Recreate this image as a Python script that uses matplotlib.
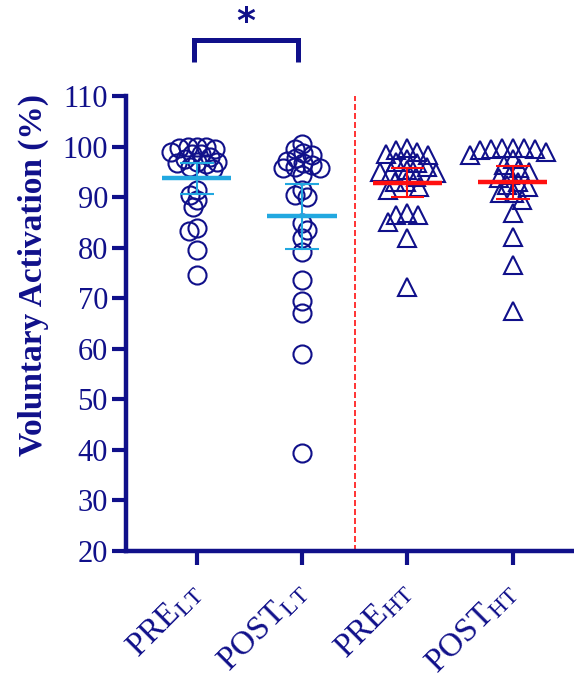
import numpy as np
import matplotlib
matplotlib.use('Agg')
import matplotlib.pyplot as plt

# ---------------- data ----------------
categories = ['PRE', 'POST', 'PRE', 'POST']
subscripts = ['LT', 'LT', 'HT', 'HT']

pre_lt = [100.0, 100.0, 100.0, 99.8, 99.5, 99.0, 98.5, 98.5, 98.0, 97.5, 97.0, 97.0,
          96.8, 96.5, 96.0, 95.5, 91.5, 90.5, 89.5, 88.0, 83.8, 83.2, 79.5, 74.5]
post_lt = [100.5, 99.5, 98.8, 98.3, 97.7, 97.2, 96.7, 96.3, 95.9, 95.7, 95.7, 94.4,
           91.4, 90.4, 90.0, 84.9, 83.5, 81.9, 79.1, 73.6, 69.4, 67.0, 59.0, 39.4]
pre_ht = [99.8, 99.3, 98.9, 98.5, 98.3, 97.5, 96.9, 96.7, 96.0, 95.3, 95.0, 95.0,
          94.8, 94.0, 93.0, 93.0, 92.0, 91.4, 86.8, 86.4, 86.4, 85.0, 81.9, 72.2]
post_ht = [99.8, 99.8, 99.8, 99.6, 99.5, 99.3, 98.9, 98.3, 97.5, 96.3, 95.7, 95.0,
           94.4, 93.8, 93.0, 92.4, 92.0, 90.8, 90.8, 89.4, 86.8, 82.1, 76.5, 67.4]
groups = [pre_lt, post_lt, pre_ht, post_ht]

means = [93.7, 86.3, 92.8, 92.9]
ci_low = [90.6, 79.8, 90.1, 89.7]
ci_high = [96.7, 92.6, 95.7, 96.1]

yticks = [20, 30, 40, 50, 60, 70, 80, 90, 100, 110]
ylabel = 'Voluntary Activation (%)'
sig_label = '*'

# ---------------- style ----------------
NAVY = '#10108A'
CYAN = '#22A8E0'
RED = '#FF1010'
markers = ['o', 'o', '^', '^']
line_colors = [CYAN, CYAN, RED, RED]
swarm_dist = [8.5, 8.5, 10.5, 10.5]

plt.rcParams['mathtext.fontset'] = 'custom'
plt.rcParams['mathtext.rm'] = 'Liberation Serif'
plt.rcParams['mathtext.it'] = 'Liberation Serif:italic'
plt.rcParams['mathtext.bf'] = 'Liberation Serif:bold'

fig = plt.figure(figsize=(5.74, 6.83), dpi=100)
ax = fig.add_axes([126 / 574, 132 / 683, 448 / 574, 455 / 683])
ax.set_xlim(-0.671, 3.582)
ax.set_ylim(20, 110)

# ---------------- swarm layout (computed, pixel space) ----------------
def swarm_offsets(vals, xc, D):
    pts = ax.transData.transform(np.column_stack([np.full(len(vals), xc), vals]))
    ys = pts[:, 1]
    order = np.argsort(-np.asarray(vals), kind='stable')
    placed = []
    offs = np.zeros(len(vals))
    for n, i in enumerate(order):
        k = 0
        found = None
        while found is None:
            cands = (0.0,) if k == 0 else ((k, -k) if n % 2 == 0 else (-k, k))
            for off in cands:
                if all((off - px) ** 2 + (ys[i] - py) ** 2 >= D * D for px, py in placed):
                    found = off
                    break
            k += 1
        placed.append((found, ys[i]))
        offs[i] = found
    px_per_unit = (ax.transData.transform((1, 0)) - ax.transData.transform((0, 0)))[0]
    return xc + offs / px_per_unit

for i, vals in enumerate(groups):
    xs = swarm_offsets(vals, i, swarm_dist[i])
    ax.plot(xs, vals, linestyle='none', marker=markers[i], markersize=13,
            markerfacecolor='none', markeredgecolor=NAVY, markeredgewidth=1.5,
            zorder=3)
    c = line_colors[i]
    ax.plot([i - 0.33, i + 0.33], [means[i]] * 2, color=c, lw=3.2, zorder=4,
            solid_capstyle='butt')
    ax.plot([i, i], [ci_low[i], ci_high[i]], color=c, lw=1.5, zorder=4)
    for v in (ci_low[i], ci_high[i]):
        ax.plot([i - 0.16, i + 0.16], [v, v], color=c, lw=1.5, zorder=4,
                solid_capstyle='butt')

# divider
ax.plot([1.5, 1.5], [20, 110], color=RED, lw=1.2, linestyle=(0, (3.6, 1.8)),
        zorder=2, clip_on=False)

# significance bracket
ax.plot([-0.03, -0.03, 0.96, 0.96], [116.8, 121.0, 121.0, 116.8], color=NAVY,
        lw=3.6, clip_on=False, solid_joinstyle='miter', solid_capstyle='butt')
ax.text(0.47, 122.6, sig_label, color=NAVY, fontsize=26, fontweight='bold',
        ha='center', va='baseline', family='DejaVu Sans')

# axes styling
for s in ('top', 'right'):
    ax.spines[s].set_visible(False)
for s in ('left', 'bottom'):
    ax.spines[s].set_color(NAVY)
    ax.spines[s].set_linewidth(3.2)

ax.set_yticks(yticks)
ax.set_yticklabels([str(t) for t in yticks], family='Liberation Serif',
                   fontsize=22, color=NAVY)
ax.set_xticks(range(len(categories)))
ax.set_xticklabels([r'%s$_{\mathrm{%s}}$' % (c, s) for c, s in zip(categories, subscripts)],
                   family='Liberation Serif', fontsize=24, color=NAVY,
                   rotation=45, ha='right', va='center', rotation_mode='anchor')
ax.tick_params(axis='both', color=NAVY, length=10, width=3, pad=3)
ax.tick_params(axis='x', pad=16)

fig.text(33 / 574, 1 - 275 / 683, ylabel, rotation=90, ha='center', va='center',
         family='Liberation Serif', fontweight='bold', fontsize=24, color=NAVY)

fig.savefig('out.png', dpi=100)
